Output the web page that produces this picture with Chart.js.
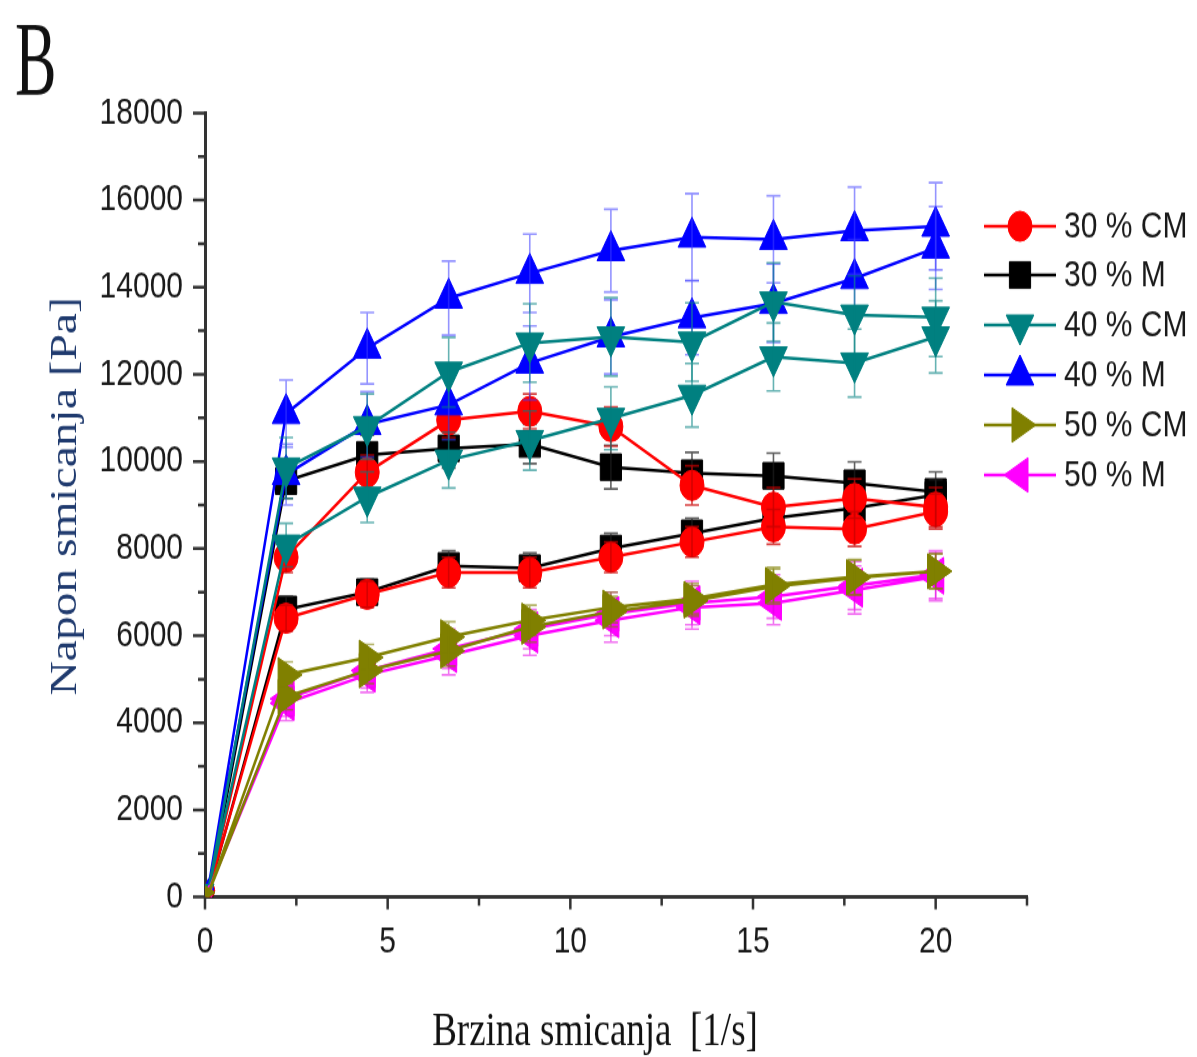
<!DOCTYPE html>
<html><head><meta charset="utf-8">
<script src="https://cdn.jsdelivr.net/npm/chart.js"></script>
<style>
html,body{margin:0;padding:0;background:#fff;}
#outer{width:1197px;height:1057px;position:relative;}
#wrap{position:absolute;left:0;top:0;width:1197px;height:846px;transform:scaleY(1.25);transform-origin:0 0;}
canvas{display:block;}
</style></head><body>
<div id="outer"><div id="wrap"><canvas id="c" width="1197" height="846"></canvas></div></div>
<script>
// ---- data ----
const shearRates = [2.22, 4.44, 6.67, 8.89, 11.11, 13.33, 15.56, 17.78, 20];
const startRate = 0.1;
const seriesNames = ['30 % CM', '30 % M', '40 % CM', '40 % M', '50 % CM', '50 % M'];
const startValues = [150, 100, 200, 250, 100, 150];

const cm30Up   = [7800, 9750, 10950, 11150, 10800, 9450, 8950, 9150, 8950];
const cm30Down = [6400, 6950, 7450, 7450, 7800, 8150, 8500, 8450, 8850];
const m30Up    = [9550, 10150, 10300, 10400, 9870, 9730, 9670, 9500, 9300];
const m30Down  = [6600, 7000, 7600, 7550, 8000, 8350, 8700, 8930, 9230];
const cm40Up   = [9850, 10800, 12050, 12720, 12860, 12740, 13660, 13360, 13310];
const cm40Down = [8080, 9180, 10030, 10480, 10990, 11520, 12400, 12260, 12860];
const m40Up    = [11100, 12600, 13750, 14320, 14840, 15150, 15100, 15300, 15400];
const m40Down  = [9700, 10850, 11300, 12260, 12860, 13300, 13630, 14200, 14900];
const cm50Up   = [5100, 5500, 5970, 6350, 6650, 6850, 7170, 7350, 7480];
const cm50Down = [4600, 5200, 5650, 6200, 6550, 6800, 7130, 7330, 7480];
const m50Up    = [4550, 5200, 5700, 6150, 6500, 6750, 6900, 7150, 7400];
const m50Down  = [4450, 5100, 5550, 6000, 6350, 6650, 6750, 7050, 7350];

const cm30UpErr   = [350, 400, 400, 400, 450, 450, 450, 450, 450];
const cm30DownErr = [300, 300, 350, 350, 350, 350, 400, 400, 400];
const m30UpErr    = [400, 450, 450, 450, 500, 480, 520, 490, 460];
const m30DownErr  = [300, 300, 350, 350, 350, 350, 350, 350, 350];
const cm40UpErr   = [700, 750, 800, 900, 900, 900, 900, 900, 900];
const cm40DownErr = [500, 580, 640, 680, 720, 730, 780, 780, 830];
const m40UpErr    = [770, 820, 850, 900, 950, 1000, 1000, 1000, 1000];
const m40DownErr  = [700, 750, 800, 850, 850, 850, 900, 900, 950];
const cm50UpErr   = [300, 300, 350, 350, 350, 350, 400, 400, 400];
const cm50DownErr = [300, 300, 350, 350, 350, 350, 400, 400, 400];
const m50UpErr    = [400, 400, 450, 450, 500, 500, 500, 550, 550];
const m50DownErr  = [400, 400, 450, 450, 500, 500, 500, 550, 550];

const xTickValues = [0, 5, 10, 15, 20];
const yTickValues = [0, 2000, 4000, 6000, 8000, 10000, 12000, 14000, 16000, 18000];

// ---- build ----
function loopPoints(start, up, down) {
  const pts = [{x: startRate, y: start}];
  up.forEach((v, i) => pts.push({x: shearRates[i], y: v}));
  for (let i = down.length - 1; i >= 0; i--) pts.push({x: shearRates[i], y: down[i]});
  pts.push({x: startRate, y: start});
  return pts;
}
function loopErr(upE, downE) {
  const e = [0];
  upE.forEach(v => e.push(v));
  for (let i = downE.length - 1; i >= 0; i--) e.push(downE[i]);
  e.push(0);
  return e;
}
function radii(r) {
  const a = [6];
  for (let i = 0; i < shearRates.length * 2; i++) a.push(r);
  a.push(6);
  return a;
}

const styles = [
  {color: '#ff0000', err: 'rgba(200,0,0,0.75)', pointStyle: 'circle', rotation: 0, r: 12, order: 4},
  {color: '#000000', err: 'rgba(30,30,30,0.7)', pointStyle: 'rect', rotation: 0, r: 15, order: 5},
  {color: '#008080', err: 'rgba(0,128,128,0.6)', pointStyle: 'triangle', rotation: 180, r: 16, order: 2},
  {color: '#0000ff', err: 'rgba(60,60,255,0.55)', pointStyle: 'triangle', rotation: 0, r: 16, order: 3},
  {color: '#808000', err: 'rgba(128,128,0,0.6)', pointStyle: 'triangle', rotation: 90, r: 16, order: 0},
  {color: '#ff00ff', err: 'rgba(230,0,230,0.55)', pointStyle: 'triangle', rotation: 270, r: 16, order: 1}
];
const seriesData = [
  [cm30Up, cm30Down, cm30UpErr, cm30DownErr],
  [m30Up, m30Down, m30UpErr, m30DownErr],
  [cm40Up, cm40Down, cm40UpErr, cm40DownErr],
  [m40Up, m40Down, m40UpErr, m40DownErr],
  [cm50Up, cm50Down, cm50UpErr, cm50DownErr],
  [m50Up, m50Down, m50UpErr, m50DownErr]
];

const datasets = seriesNames.map((name, i) => {
  const s = styles[i], d = seriesData[i];
  return {
    label: name,
    data: loopPoints(startValues[i], d[0], d[1]),
    errors: loopErr(d[2], d[3]),
    errorColor: s.err,
    showLine: true,
    borderColor: s.color,
    backgroundColor: s.color,
    borderWidth: 2.5,
    tension: 0,
    pointStyle: s.pointStyle,
    pointRotation: s.rotation,
    pointRadius: radii(s.r),
    pointBackgroundColor: s.color,
    pointBorderColor: s.color,
    pointBorderWidth: 1,
    order: s.order
  };
});

const AXIS_COLOR = '#333333';
const TICK_FONT = "'Liberation Sans', Arial, sans-serif";
const SERIF = "'Liberation Serif', 'Times New Roman', serif";

const errorBars = {
  id: 'errorBars',
  afterDatasetDraw(chart, args) {
    const ds = chart.data.datasets[args.index];
    if (!ds.errors) return;
    const ctx = chart.ctx, ys = chart.scales.y;
    ctx.save();
    ctx.strokeStyle = ds.errorColor;
    ctx.lineWidth = 1.6;
    args.meta.data.forEach((pt, i) => {
      const e = ds.errors[i];
      if (!e) return;
      const v = ds.data[i].y;
      const x = pt.x;
      const y1 = ys.getPixelForValue(v + e), y2 = ys.getPixelForValue(v - e);
      ctx.beginPath();
      ctx.moveTo(x, y1); ctx.lineTo(x, y2);
      ctx.moveTo(x - 7, y1); ctx.lineTo(x + 7, y1);
      ctx.moveTo(x - 7, y2); ctx.lineTo(x + 7, y2);
      ctx.stroke();
    });
    ctx.restore();
  }
};

const tickMarks = {
  id: 'tickMarks',
  afterDraw(chart) {
    const {ctx, scales: {x, y}, chartArea} = chart;
    ctx.save();
    ctx.strokeStyle = AXIS_COLOR;
    ctx.lineWidth = 2.5;
    ctx.beginPath();
    for (let v = y.min; v <= y.max; v += 1000) {
      const py = y.getPixelForValue(v);
      const len = (v % 2000 === 0) ? 12 : 7;
      ctx.moveTo(chartArea.left, py); ctx.lineTo(chartArea.left - len, py);
    }
    for (let v = x.min; v <= x.max + 1e-9; v += 2.5) {
      const px = x.getPixelForValue(v);
      const len = (Math.abs(v % 5) < 1e-9) ? 10 : 7;
      ctx.moveTo(px, chartArea.bottom); ctx.lineTo(px, chartArea.bottom + len);
    }
    ctx.stroke();
    ctx.restore();
  }
};

const texts = {
  id: 'texts',
  afterDraw(chart) {
    const ctx = chart.ctx;
    ctx.save();
    ctx.save();
    ctx.scale(0.74, 1);
    ctx.fillStyle = '#111';
    ctx.font = '84px ' + SERIF;
    ctx.textBaseline = 'alphabetic';
    ctx.textAlign = 'left';
    ctx.fillText('B', 15 / 0.74, 76);
    ctx.restore();
    ctx.save();
    ctx.translate(66, 397);
    ctx.rotate(-Math.PI / 2);
    ctx.fillStyle = '#1f3a6e';
    ctx.font = '38px ' + SERIF;
    ctx.textAlign = 'center';
    ctx.textBaseline = 'middle';
    ctx.fillText('Napon smicanja [Pa]', 0, 0);
    ctx.restore();
    ctx.fillStyle = '#111';
    ctx.font = '37px ' + SERIF;
    ctx.textAlign = 'center';
    ctx.textBaseline = 'middle';
    ctx.fillText('Brzina smicanja  [1/s]', 595, 826);
    ctx.restore();
  }
};

const legendBox = {
  id: 'legendBox',
  afterDraw(chart) {
    const ctx = chart.ctx;
    const ys = [181, 220, 260, 300, 340, 380];
    ctx.save();
    chart.data.datasets.forEach((ds, i) => {
      const s = styles[i];
      const y = ys[i];
      ctx.strokeStyle = s.color;
      ctx.lineWidth = 2.5;
      ctx.beginPath(); ctx.moveTo(984, y); ctx.lineTo(1056, y); ctx.stroke();
      ctx.fillStyle = s.color;
      ctx.lineWidth = 1;
      if (Chart.helpers && Chart.helpers.drawPoint) {
        Chart.helpers.drawPoint(ctx, {pointStyle: s.pointStyle, rotation: s.rotation, radius: s.r, borderWidth: 1}, 1020, y);
      } else {
        ctx.beginPath(); ctx.arc(1020, y, s.r * 0.8, 0, Math.PI * 2); ctx.fill();
      }
      ctx.fillStyle = '#1a1a1a';
      ctx.font = '30px ' + TICK_FONT;
      ctx.textAlign = 'left';
      ctx.textBaseline = 'middle';
      ctx.fillText(ds.label, 1064, y + 1);
    });
    ctx.restore();
  }
};

new Chart(document.getElementById('c'), {
  type: 'scatter',
  data: {datasets},
  options: {
    responsive: false,
    animation: false,
    layout: {padding: {left: 0, right: 170, top: 90.4, bottom: 0}},
    plugins: {legend: {display: false}, tooltip: {enabled: false}},
    scales: {
      x: {
        type: 'linear', min: 0, max: 22.5,
        grid: {display: false, drawTicks: false},
        border: {display: true, color: AXIS_COLOR, width: 3},
        afterBuildTicks: s => { s.ticks = xTickValues.map(v => ({value: v})); },
        ticks: {
          autoSkip: false, maxRotation: 0, padding: 18,
          color: '#1a1a1a', font: {family: TICK_FONT, size: 30},
          callback: v => String(v)
        },
        afterFit: s => { s.height = 846 - 717.6; }
      },
      y: {
        type: 'linear', min: 0, max: 18000,
        grid: {display: false, drawTicks: false},
        border: {display: true, color: AXIS_COLOR, width: 3},
        afterBuildTicks: s => { s.ticks = yTickValues.map(v => ({value: v})); },
        ticks: {
          autoSkip: false, padding: 22,
          color: '#1a1a1a', font: {family: TICK_FONT, size: 30},
          callback: v => String(v)
        },
        afterFit: s => { s.width = 205; }
      }
    }
  },
  plugins: [errorBars, tickMarks, texts, legendBox]
});
</script>
</body></html>
